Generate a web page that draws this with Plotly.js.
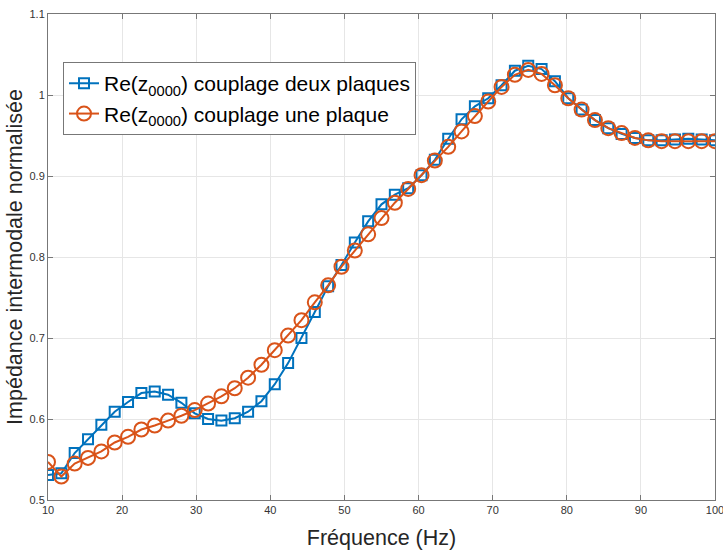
<!DOCTYPE html>
<html>
<head>
<meta charset="utf-8">
<script src="https://cdn.plot.ly/plotly-3.0.1.min.js"></script>
<style>
html,body{margin:0;padding:0;background:#fff;}
#chart{width:723px;height:554px;}
</style>
</head>
<body>
<div id="chart"></div>
<script>
const freq = [10, 11.8, 13.6, 15.4, 17.2, 19, 20.8, 22.6, 24.4, 26.2,
  28, 29.8, 31.6, 33.4, 35.2, 37, 38.8, 40.6, 42.4, 44.2,
  46, 47.8, 49.6, 51.4, 53.2, 55, 56.8, 58.6, 60.4, 62.2,
  64, 65.8, 67.6, 69.4, 71.2, 73, 74.8, 76.6, 78.4, 80.2,
  82, 83.8, 85.6, 87.4, 89.2, 91, 92.8, 94.6, 96.4, 98.2, 100];

const deuxPlaques = [0.531, 0.533, 0.558, 0.575, 0.593, 0.609, 0.621, 0.632, 0.634, 0.630,
  0.620, 0.607, 0.600, 0.598, 0.601, 0.609, 0.622, 0.643, 0.669, 0.700,
  0.732, 0.764, 0.790, 0.818, 0.844, 0.865, 0.877, 0.885, 0.901, 0.920,
  0.946, 0.970, 0.986, 0.996, 1.012, 1.030, 1.036, 1.032, 1.017, 0.996,
  0.982, 0.969, 0.959, 0.952, 0.947, 0.944, 0.944, 0.945, 0.946, 0.945, 0.944];

const unePlaque = [0.547, 0.529, 0.545, 0.552, 0.560, 0.571, 0.578, 0.587, 0.592, 0.598,
  0.604, 0.611, 0.619, 0.628, 0.638, 0.651, 0.667, 0.685, 0.703, 0.722,
  0.744, 0.765, 0.788, 0.808, 0.828, 0.848, 0.867, 0.884, 0.901, 0.919,
  0.936, 0.955, 0.974, 0.992, 1.010, 1.025, 1.031, 1.026, 1.012, 0.996,
  0.982, 0.969, 0.959, 0.953, 0.947, 0.944, 0.943, 0.943, 0.943, 0.943, 0.943];

const seriesNames = ['Re(z<sub>0000</sub>) couplage deux plaques', 'Re(z<sub>0000</sub>) couplage une plaque'];
const xTicks = [10, 20, 30, 40, 50, 60, 70, 80, 90, 100];
const yTicks = [0.5, 0.6, 0.7, 0.8, 0.9, 1, 1.1];

const blue = '#0072BD';
const orange = '#D95319';

const traces = [
  {x: freq, y: deuxPlaques, name: seriesNames[0], type: 'scatter', mode: 'lines+markers',
   line: {color: blue, width: 2},
   marker: {symbol: 'square-open', size: 10, color: blue, line: {width: 2, color: blue}}},
  {x: freq, y: unePlaque, name: seriesNames[1], type: 'scatter', mode: 'lines+markers',
   line: {color: orange, width: 2},
   marker: {symbol: 'circle-open', size: 14, color: orange, line: {width: 2, color: orange}}}
];

const axisCommon = {
  showline: true, mirror: 'ticks', linecolor: '#777', linewidth: 1,
  ticks: 'inside', ticklen: 5, tickcolor: '#777', tickwidth: 1,
  showgrid: true, gridcolor: '#e6e6e6', gridwidth: 1, zeroline: false,
  ticklabeloverflow: 'allow',
  tickfont: {family: 'Liberation Sans, Arial, sans-serif', size: 11, color: '#333'}
};

const layout = {
  width: 723, height: 554,
  margin: {l: 48, r: 8, t: 14, b: 54},
  paper_bgcolor: '#fff', plot_bgcolor: '#fff',
  font: {family: 'Liberation Sans, Arial, sans-serif', color: '#262626'},
  xaxis: Object.assign({}, axisCommon, {
    range: [10, 100], tickvals: xTicks, ticktext: xTicks.map(String),
    title: {text: 'Fréquence (Hz)', font: {size: 21.5, color: '#262626'}, standoff: 14}
  }),
  yaxis: Object.assign({}, axisCommon, {
    range: [0.5, 1.1], tickvals: yTicks, ticktext: yTicks.map(String),
    title: {text: 'Impédance intermodale normalisée', font: {size: 21.5, color: '#262626'}, standoff: 0}
  }),
  showlegend: true,
  legend: {
    x: 0.0225, y: 0.901, xanchor: 'left', yanchor: 'top',
    bgcolor: '#fff', bordercolor: '#777', borderwidth: 1,
    font: {size: 21, color: '#000', family: 'Liberation Sans, Arial, sans-serif'},
    tracegroupgap: 0, itemwidth: 30
  }
};

Plotly.newPlot('chart', traces, layout, {displayModeBar: false, staticPlot: true});
</script>
</body>
</html>
